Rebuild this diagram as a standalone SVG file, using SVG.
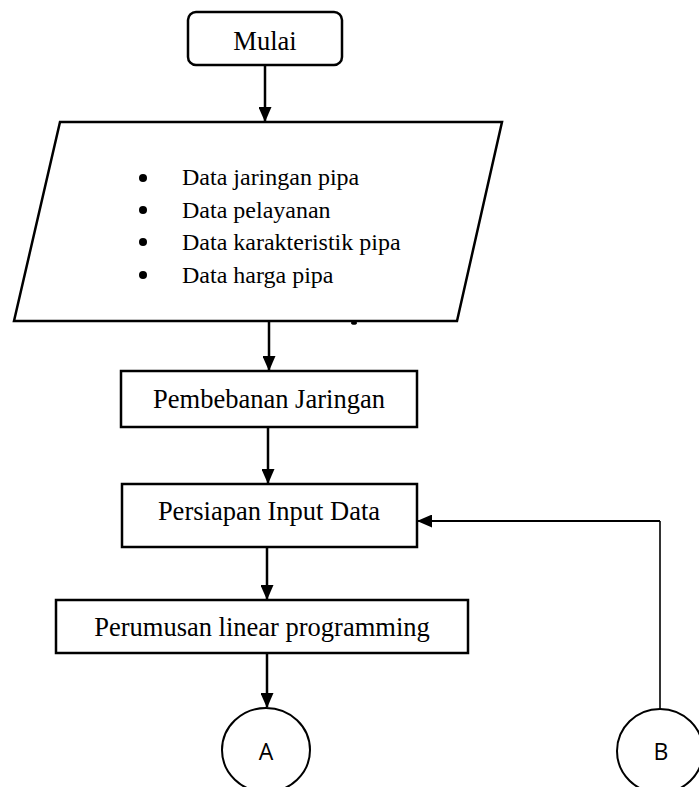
<svg xmlns="http://www.w3.org/2000/svg" width="699" height="787" viewBox="0 0 699 787">
<defs>
<style>
.box{fill:#fff;stroke:#000;stroke-width:2.5}
.t{font-family:"Liberation Serif","Times New Roman",serif;font-size:26.5px;fill:#000;text-anchor:middle}
.b{font-family:"Liberation Serif","Times New Roman",serif;font-size:24px;fill:#000}
.c{font-family:"Open Sans","Liberation Sans",sans-serif;font-size:23px;fill:#000;text-anchor:middle}
.ln{fill:none;stroke:#000;stroke-width:2.5}
</style>
<marker id="ah" markerWidth="15" markerHeight="13" refX="14" refY="6.5" orient="auto" markerUnits="userSpaceOnUse">
<path d="M0,0 L15,6.5 L0,13 Z" fill="#000"/>
</marker>
</defs>
<rect width="699" height="787" fill="#fff"/>
<g id="mulai">
<rect class="box" x="188" y="12" width="154" height="53" rx="8"/>
<text class="t" x="265" y="50">Mulai</text>
</g>
<g id="input-data">
<polygon class="box" points="60,122 502,122 457,321 14,321"/>
<ellipse cx="354" cy="323" rx="3" ry="1.8" fill="#000"/>
<circle cx="143" cy="178" r="4"/>
<circle cx="143" cy="210" r="4"/>
<circle cx="143" cy="242" r="4"/>
<circle cx="143" cy="275" r="4"/>
<text class="b" x="182" y="185">Data jaringan pipa</text>
<text class="b" x="182" y="218">Data pelayanan</text>
<text class="b" x="182" y="250">Data karakteristik pipa</text>
<text class="b" x="182" y="283">Data harga pipa</text>
</g>
<g id="pembebanan">
<rect class="box" x="121" y="371" width="296" height="56"/>
<text class="t" x="269" y="408">Pembebanan Jaringan</text>
</g>
<g id="persiapan">
<rect class="box" x="122" y="484" width="295" height="63"/>
<text class="t" x="269" y="520">Persiapan Input Data</text>
</g>
<g id="perumusan">
<rect class="box" x="56" y="600" width="412" height="53"/>
<text class="t" x="262" y="636">Perumusan linear programming</text>
</g>
<g id="connector-a">
<ellipse cx="266" cy="750" rx="44" ry="42" fill="#fff" stroke="#000" stroke-width="2"/>
<text class="c" x="266" y="760">A</text>
</g>
<g id="connector-b">
<ellipse cx="660" cy="751" rx="43" ry="42" fill="#fff" stroke="#000" stroke-width="2"/>
<text class="c" x="661" y="760">B</text>
</g>
<g id="connectors">
<line class="ln" x1="265" y1="65" x2="265" y2="121" marker-end="url(#ah)"/>
<line class="ln" x1="269" y1="322" x2="269" y2="370" marker-end="url(#ah)"/>
<line class="ln" x1="268" y1="427" x2="268" y2="483" marker-end="url(#ah)"/>
<line class="ln" x1="267" y1="547" x2="267" y2="599" marker-end="url(#ah)"/>
<line class="ln" x1="267" y1="653" x2="267" y2="707" marker-end="url(#ah)"/>
<path d="M660,709 V521" fill="none" stroke="#000" stroke-width="1.6"/>
<path d="M660,521 H418" fill="none" stroke="#000" stroke-width="2.2" marker-end="url(#ah)"/>
</g>
</svg>
